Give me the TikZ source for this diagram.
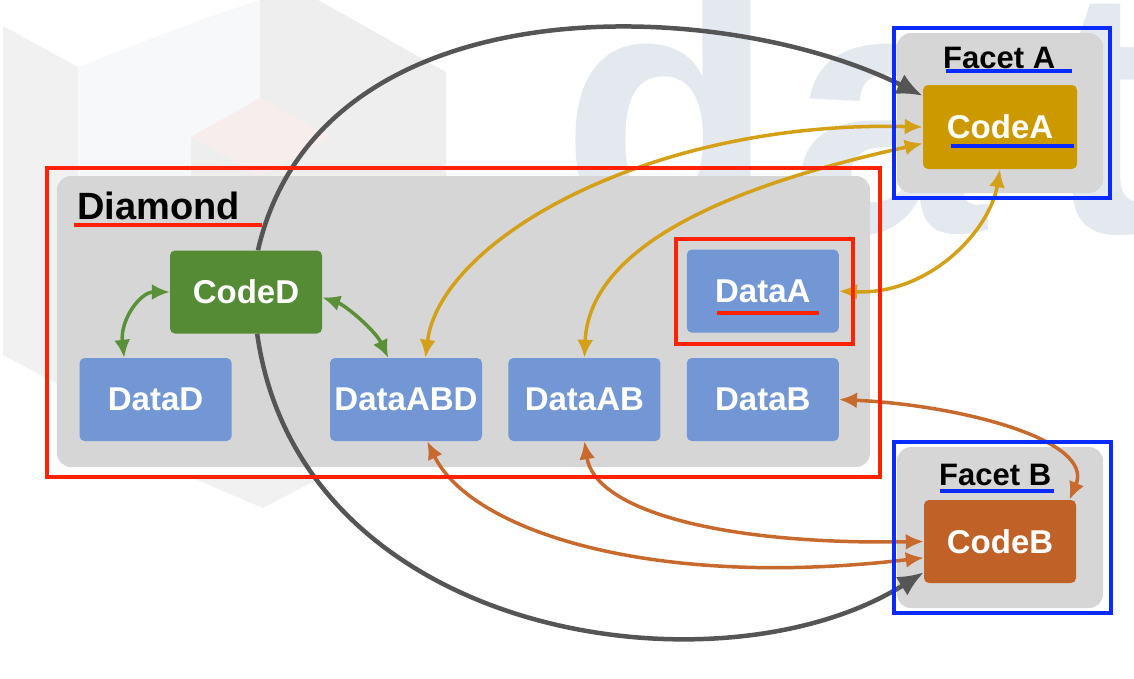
\documentclass[tikz,border=0pt]{standalone}
\usepackage{fontspec}
\setmainfont{Liberation Sans}
\usepackage{tikz}
\usetikzlibrary{positioning,calc,arrows.meta}
\pgfdeclarelayer{wm}
\pgfdeclarelayer{links}
\pgfsetlayers{wm,links,main}
\definecolor{areagrey}{HTML}{D6D6D6}
\definecolor{datablue}{HTML}{7297D4}
\definecolor{codegreen}{HTML}{568B35}
\definecolor{codeyellow}{HTML}{CC9900}
\definecolor{codeorange}{HTML}{C06228}
\definecolor{linkgreen}{HTML}{5A9038}
\definecolor{linkyellow}{HTML}{D4A017}
\definecolor{linkorange}{HTML}{C8692E}
\definecolor{linkgrey}{HTML}{555555}
\definecolor{markred}{HTML}{FF2200}
\definecolor{markblue}{HTML}{0A2BFF}
\definecolor{wmblue}{HTML}{E4E8EF}
\definecolor{wmgreyA}{HTML}{F1F1F1}
\definecolor{wmgreyB}{HTML}{F7F8FA}
\definecolor{wmgreyC}{HTML}{EEEEEE}
\definecolor{wmpink}{HTML}{F8EDED}
\def\BoxW{152pt}
\def\BoxH{83pt}
\def\RowGap{26pt}
\newcommand{\BoxFont}{\fontsize{33pt}{33pt}\selectfont\bfseries}
\newcommand{\TitleFont}{\fontsize{38pt}{38pt}\selectfont\bfseries}
\newcommand{\FacetFont}{\fontsize{31pt}{31pt}\selectfont\bfseries}
\newcommand{\WmFont}{\fontsize{350pt}{350pt}\selectfont\bfseries}
\tikzset{
	box/.style={rectangle,rounded corners=5pt,minimum width=\BoxW,minimum height=\BoxH,inner sep=0pt,text=white,font=\BoxFont},
	databox/.style={box,fill=datablue},
	codebox/.style={box},
	area/.style={rectangle,rounded corners=14pt,fill=areagrey,inner sep=0pt},
	title/.style={anchor=base west,inner sep=0pt},
	wmletter/.style={anchor=base west,inner sep=0pt,text=wmblue,font=\WmFont},
	link/.style={line width=3.5pt},
	both/.style={{Latex[length=18pt,width=16pt]}-{Latex[length=18pt,width=16pt]}},
	into/.style={line width=4.5pt,-{Latex[length=26pt,width=22pt]}},
	redmark/.style={draw=markred,line width=4pt},
	bluemark/.style={draw=markblue,line width=4pt},
}

\begin{document}
\begin{tikzpicture}[x=1pt,y=-1pt]
	\useasboundingbox (0,0) rectangle (1134,678);
	\begin{pgfonlayer}{wm}
		\fill[white] (0,0) rectangle (1134,678);
		% faint logo behind
		\fill[wmgreyA] (3,26) -- (78,67) -- (78,395) -- (3,355) -- cycle;
		\fill[wmgreyB] (78,67) -- (200,20) -- (260,0) -- (260,395) -- (78,395) -- cycle;
		\fill[wmgreyC] (260,0) -- (318,0) -- (446,72) -- (446,380) -- (260,395) -- cycle;
		\fill[wmgreyC] (191,137) -- (260,176) -- (260,210) -- (191,210) -- cycle;
		\fill[wmpink] (191,137) -- (260,98) -- (331,137) -- (260,176) -- cycle;
		\fill[wmgreyA] (195,479) -- (263,508) -- (318,479) -- cycle;
		\node[wmletter] (wmD) at (561,232) {d};
		\node[wmletter] (wmA) at (791,232) {a};
		\node[wmletter] (wmT) at (1045,232) {t};
		% grey areas
		\node[area,minimum width=813pt,minimum height=291pt] (diamond) at (463.5,321.5) {};
		\node[area,minimum width=206pt,minimum height=160pt] (facetA) at (1000,113) {};
		\node[area,minimum width=206pt,minimum height=161pt] (facetB) at (1000,527.5) {};
	\end{pgfonlayer}
	% 
	\node[title,font=\TitleFont] (diamondTitle) at (77,219) {Diamond};
	\node[title,font=\FacetFont] (facetATitle) at (943,68) {Facet A};
	\node[title,font=\FacetFont] (facetBTitle) at (939,485) {Facet B};
	% 
	\node[databox] (dataABD) at (406,399.5) {DataABD};
	\node[databox,right=\RowGap of dataABD] (dataAB) {DataAB};
	\node[databox,right=\RowGap of dataAB] (dataB) {DataB};
	\node[databox,above=25pt of dataB] (dataA) {DataA};
	\node[databox,left=98pt of dataABD] (dataD) {DataD};
	\node[codebox,fill=codegreen] (codeD) at (246,292) {CodeD};
	\node[codebox,fill=codeyellow,minimum width=154pt,minimum height=84pt] (codeA) at (1000,127) {CodeA};
	\node[codebox,fill=codeorange] (codeB) at (1000,541.5) {CodeB};
	% 
	\begin{pgfonlayer}{links}
		\draw[into,linkgrey] (codeD.74) .. controls (320,-20) and (720,-5) .. (codeA.158);
		\draw[into,linkgrey] (codeD.-75) .. controls (300,640) and (720,700) .. (codeB.202);
		% 
		\draw[link,both,linkyellow] (dataABD.65) .. controls (440,240) and (650,120) .. (codeA.180);
		\draw[link,both,linkyellow] (dataAB.north) .. controls (590,230) and (780,175) .. (codeA.192);
		\draw[link,both,linkyellow] (dataA.east) .. controls (930,295) and (990,230) .. (codeA.south);
		% 
		\draw[link,both,linkorange] (dataABD.-63) .. controls (470,530) and (650,590) .. (codeB.192);
		\draw[link,both,linkorange] (dataAB.south) .. controls (595,510) and (720,545) .. (codeB.west);
		\draw[link,both,linkorange] (dataB.east) .. controls (960,405) and (1095,440) .. (codeB.31);
		% 
		\draw[link,both,linkgreen] (codeD.west) .. controls (140,292) and (120,320) .. (dataD.127);
		\draw[link,both,linkgreen] (codeD.-4) .. controls (345,305) and (375,330) .. (dataABD.113);
	\end{pgfonlayer}
	% marks on top
	\draw[redmark] (47,168) rectangle (880,477);
	\draw[redmark] (675.5,239) rectangle (853,344);
	\draw[bluemark] (894,28) rectangle (1110,198);
	\draw[bluemark] (893.5,442) rectangle (1111,613);
	\draw[redmark] (74,225) -- (262,225);
	\draw[redmark] (717,313) -- (819,313);
	\draw[bluemark] (946,71) -- (1072,71);
	\draw[bluemark] (951,146) -- (1074,146);
	\draw[bluemark] (940,491) -- (1054,491);
\end{tikzpicture}
\end{document}
